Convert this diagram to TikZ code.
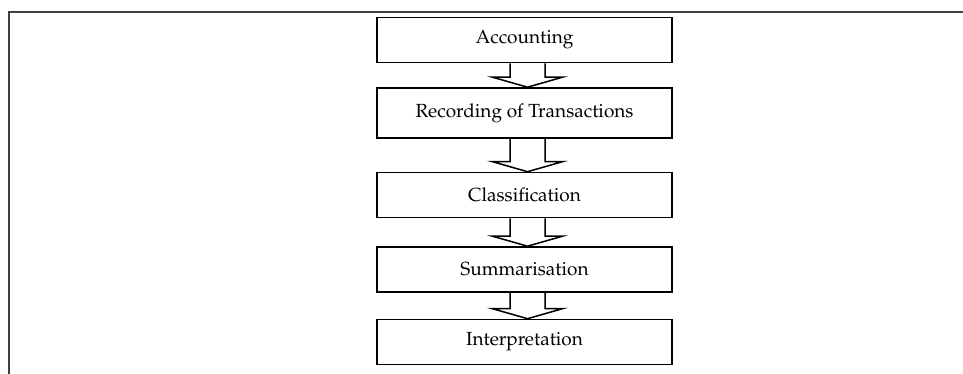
\documentclass[tikz,border=0pt]{standalone}
\usepackage[T1]{fontenc}
\usepackage{mathpazo}
\usetikzlibrary{calc}
\tikzset{
  stage/.style={draw=black, line width=1.6pt, minimum width=295pt, minimum height=45pt,
    inner sep=0pt, font=\fontsize{19}{22}\selectfont},
  hollowarrow/.style={draw=black, line width=1.5pt, line join=miter},
  frameline/.style={draw=black!75, line width=1.6pt}
}
% hollow block arrow from the bottom of #1 to the top of #2
\newcommand{\stagearrow}[2]{%
  \draw[hollowarrow]
    ($(#1.south)+(-14.5pt,0)$) -- ($(#2.north)+(-14.5pt,10pt)$)
    -- ($(#2.north)+(-32pt,10pt)$) -- ($(#2.north)+(3pt,0)$)
    -- ($(#2.north)+(38pt,10pt)$) -- ($(#2.north)+(20.5pt,10pt)$)
    -- ($(#1.south)+(20.5pt,0)$);}
\begin{document}
\begin{tikzpicture}[x=1pt,y=-1pt]
  \useasboundingbox (0,0) rectangle (963,374);
  \fill[white] (0,0) rectangle (963,374);
  % open frame: top and left edges only
  \coordinate (fbl) at (9,374);
  \coordinate (ftl) at (9,12);
  \coordinate (ftr) at (963,12);
  \draw[frameline] (fbl) -- (ftl) -- (ftr);
  % the five stages
  \node[stage] (acc) at (524.5,40) {Accounting};
  \node[stage, minimum height=50pt] (rec) at (524.5,113) {Recording of Transactions};
  \node[stage] (cla) at (524.5,195) {Classification};
  \node[stage] (sum) at (524.5,269.5) {Summarisation};
  \node[stage] (int) at (524.5,342) {Interpretation};
  \stagearrow{acc}{rec}
  \stagearrow{rec}{cla}
  \stagearrow{cla}{sum}
  \stagearrow{sum}{int}
\end{tikzpicture}
\end{document}
